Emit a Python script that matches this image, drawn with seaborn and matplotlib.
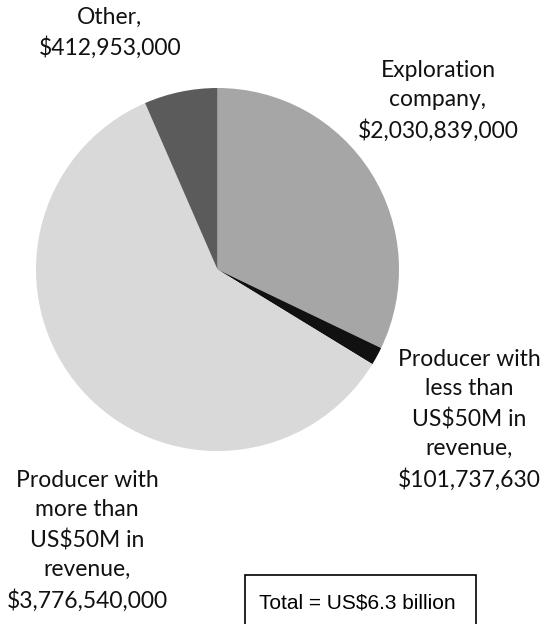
import matplotlib.pyplot as plt
import seaborn as sns
from matplotlib.patches import Rectangle

# Data
categories = ["Exploration company", "Producer with less than US$50M in revenue",
              "Producer with more than US$50M in revenue", "Other"]
values = [2030839000, 101737630, 3776540000, 412953000]
slice_colors = ["#a6a6a6", "#111111", "#d9d9d9", "#5b5b5b"]
label_texts = [
    "Exploration\ncompany,\n$2,030,839,000",
    "Producer with\nless than\nUS$50M in\nrevenue,\n$101,737,630",
    "Producer with\nmore than\nUS$50M in\nrevenue,\n$3,776,540,000",
    "Other,\n$412,953,000",
]
total_text = "Total = US$6.3 billion"

sns.set_theme(style="white")
plt.rcParams["font.family"] = ["Lato", "DejaVu Sans"]

W, H = 553, 624
fig = plt.figure(figsize=(W / 100, H / 100), dpi=100)
ax = fig.add_axes([0, 0, 1, 1])

# pie, clockwise from 12 o'clock
ax.pie(values, colors=slice_colors, startangle=90, counterclock=False,
       center=(217.5, H - 269.5), radius=181.5, frame=True,
       wedgeprops=dict(linewidth=0))
ax.set_xlim(0, W)
ax.set_ylim(0, H)
ax.set_aspect("equal")
ax.axis("off")

# labels (pixel positions of the centre of each block)
label_pos = [(438, 101), (469, 420), (87, 541), (110, 33)]
for txt, (x, y) in zip(label_texts, label_pos):
    ax.text(x, H - y, txt, ha="center", va="center", fontsize=16.5,
            linespacing=1.48, color="#111111")

# total box (runs off the bottom edge like the original)
ax.add_patch(Rectangle((245, -10), 231, H - 575 + 10, fill=False,
                       edgecolor="black", linewidth=1.2))
ax.text(357, H - 603, total_text, ha="center", va="center", fontsize=15,
        family=["Liberation Sans", "DejaVu Sans"], color="black")

fig.savefig("out.png", dpi=100)
